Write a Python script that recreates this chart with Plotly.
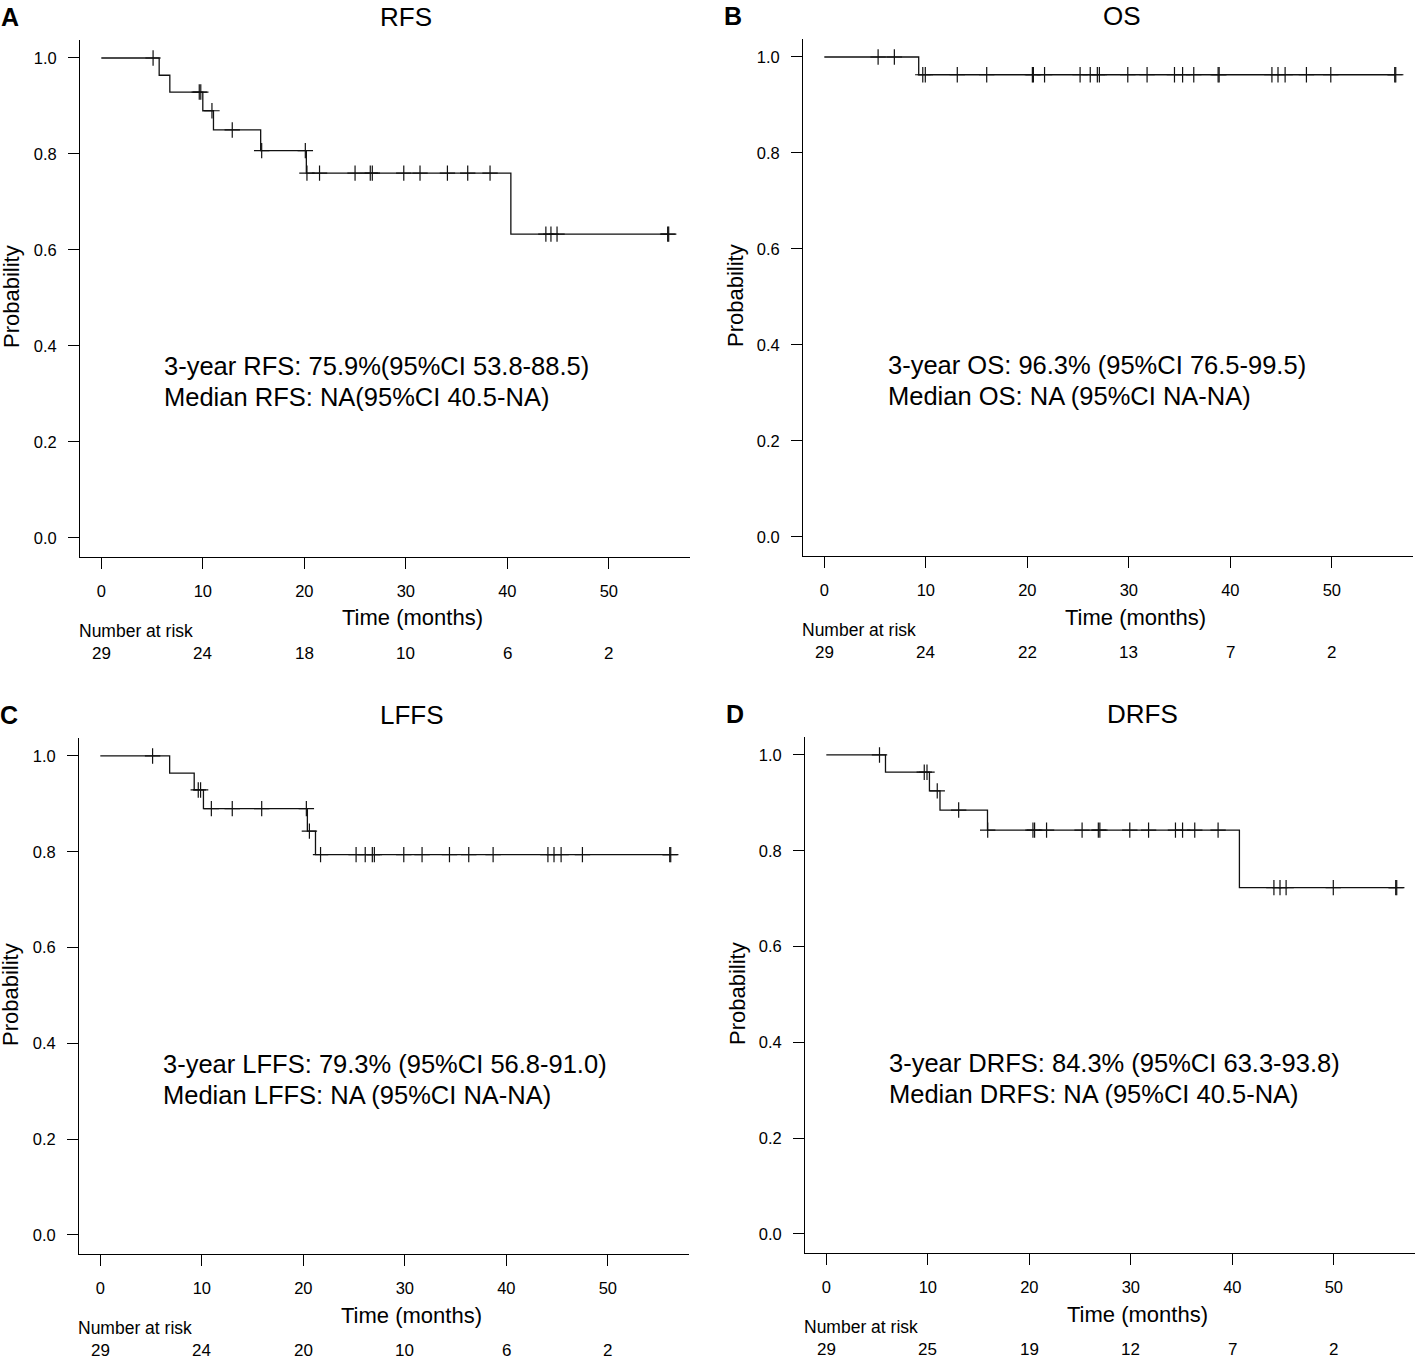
import numpy as np
import plotly.graph_objects as go

W, H = 1418, 1357
FONT = 'Liberation Sans, Arial, Helvetica, sans-serif'

# Kaplan-Meier steps (time in months, survival)
rfs_t = [0, 5.7, 6.75, 10.0, 11.05, 15.7, 20.2, 40.35]
rfs_s = [1.0, 0.964, 0.929, 0.890, 0.850, 0.807, 0.760, 0.633]
rfs_end = 55.9
rfs_cens = [5.1, 9.65, 9.8, 10.9, 12.9, 15.8, 20.1, 20.26, 21.5, 25.0, 26.5, 26.7, 29.8,
            31.4, 34.1, 36.1, 38.3, 43.8, 44.3, 44.9, 55.8, 55.9]
rfs_risk = [29, 24, 18, 10, 6, 2]

os_t = [0, 9.3]
os_s = [1.0, 0.963]
os_end = 56.3
os_cens = [5.3, 6.9, 9.7, 9.95, 13.1, 16.0, 20.5, 20.6, 21.7, 25.2, 26.2, 26.9, 27.1, 29.9,
           31.8, 34.5, 35.3, 36.4, 38.8, 38.9, 44.1, 44.7, 45.4, 47.5, 49.9, 56.2, 56.3]
os_risk = [29, 24, 22, 13, 7, 2]

lffs_t = [0, 6.83, 9.25, 10.16, 20.4, 21.2]
lffs_s = [1.0, 0.964, 0.929, 0.890, 0.843, 0.794]
lffs_end = 56.2
lffs_cens = [5.15, 9.65, 9.88, 10.94, 13.0, 15.9, 20.3, 20.6, 21.7, 25.2, 26.1, 26.8, 27.0,
             29.9, 31.7, 34.4, 36.3, 38.7, 44.1, 44.7, 45.4, 47.5, 56.1, 56.2]
lffs_risk = [29, 24, 20, 10, 6, 2]

drfs_t = [0, 5.83, 10.16, 11.2, 15.88, 40.7]
drfs_s = [1.0, 0.964, 0.925, 0.885, 0.843, 0.723]
drfs_end = 56.2
drfs_cens = [5.24, 9.65, 9.92, 10.93, 13.04, 15.9, 20.36, 20.52, 21.7, 25.2, 26.8, 26.95,
             29.9, 31.75, 34.4, 35.1, 36.3, 38.6, 44.1, 44.7, 45.3, 49.95, 56.1, 56.2]
drfs_risk = [29, 25, 19, 12, 7, 2]

risk_times = [0, 10, 20, 30, 40, 50]

panels = [
    dict(letter='A', title='RFS', t=rfs_t, s=rfs_s, end=rfs_end, cens=rfs_cens, risk=rfs_risk,
         text=['3-year RFS: 75.9%(95%CI 53.8-88.5)', 'Median RFS: NA(95%CI 40.5-NA)'],
         box=(80, 40, 690, 557), title_x=406, text_x=162),
    dict(letter='B', title='OS', t=os_t, s=os_s, end=os_end, cens=os_cens, risk=os_risk,
         text=['3-year OS: 96.3% (95%CI 76.5-99.5)', 'Median OS: NA (95%CI NA-NA)'],
         box=(803, 39, 1413, 556), title_x=1122, text_x=886),
    dict(letter='C', title='LFFS', t=lffs_t, s=lffs_s, end=lffs_end, cens=lffs_cens, risk=lffs_risk,
         text=['3-year LFFS: 79.3% (95%CI 56.8-91.0)', 'Median LFFS: NA (95%CI NA-NA)'],
         box=(79, 738, 689, 1254), title_x=412, text_x=161),
    dict(letter='D', title='DRFS', t=drfs_t, s=drfs_s, end=drfs_end, cens=drfs_cens, risk=drfs_risk,
         text=['3-year DRFS: 84.3% (95%CI 63.3-93.8)', 'Median DRFS: NA (95%CI 40.5-NA)'],
         box=(805, 737, 1415, 1253), title_x=1142, text_x=887),
]


def px(x):
    return x / W


def py(y):
    return 1 - y / H


def label(text, x, y, size, xanchor='center', **kw):
    return dict(text=text, x=px(x), y=py(y), xref='paper', yref='paper',
                xanchor=xanchor, yanchor='middle', showarrow=False,
                font=dict(family=FONT, size=size, color='black'), **kw)


fig = go.Figure()
annotations = []

for i, p in enumerate(panels):
    n = '' if i == 0 else str(i + 1)
    xa, ya = 'x' + n, 'y' + n
    x0, y0, x1, y1 = p['box']

    # survival curve
    xs = list(p['t']) + [p['end']]
    ys = list(p['s']) + [p['s'][-1]]
    fig.add_trace(go.Scatter(x=xs, y=ys, mode='lines', line_shape='hv',
                             line=dict(color='#111111', width=1.3),
                             xaxis=xa, yaxis=ya, showlegend=False, hoverinfo='skip'))

    # censor marks
    idx = np.searchsorted(p['t'], p['cens'], side='right') - 1
    cy = np.array(p['s'])[idx]
    fig.add_trace(go.Scatter(x=p['cens'], y=cy, mode='markers',
                             marker=dict(symbol='cross-thin', size=11,
                                         line=dict(color='#111111', width=1.2)),
                             xaxis=xa, yaxis=ya, showlegend=False, hoverinfo='skip'))

    axis_common = dict(showgrid=False, zeroline=False, showline=True, linecolor='black',
                       linewidth=1, ticks='outside', ticklen=11, tickcolor='black',
                       tickfont=dict(family=FONT, size=16.5, color='black'))
    fig.update_layout(**{
        'xaxis' + n: dict(domain=[px(x0), px(x1)], range=[-2.1, 58.0], anchor=ya,
                          tickvals=risk_times, ticklabelstandoff=8, **axis_common),
        'yaxis' + n: dict(domain=[py(y1), py(y0)], range=[-0.04, 1.0375], anchor=xa,
                          tickvals=[0, 0.2, 0.4, 0.6, 0.8, 1.0], tickformat='.1f',
                          ticklabelstandoff=8, **axis_common),
    })

    ax0 = x0 + 21  # pixel of time zero
    # panel letter and title
    annotations.append(label('<b>' + p['letter'] + '</b>', x0 - 70, y0 - 23, 25))
    annotations.append(label(p['title'], p['title_x'], y0 - 23, 26))
    # axis titles
    annotations.append(label('Time (months)', ax0 + 311, y1 + 61, 22))
    annotations.append(label('Probability', x0 - 68, y0 + 257, 22, textangle=-90))
    # summary text
    for k, line in enumerate(p['text']):
        annotations.append(label(line, p['text_x'], y0 + 326 + 31 * k, 25.5, xanchor='left'))
    # number at risk
    annotations.append(label('Number at risk', x0 - 3, y1 + 74, 17.5, xanchor='left'))
    for t, r in zip(risk_times, p['risk']):
        annotations.append(dict(text=str(r), x=t, xref=xa, y=py(y1 + 96), yref='paper',
                                xanchor='center', yanchor='middle', showarrow=False,
                                font=dict(family=FONT, size=17, color='black')))

fig.update_layout(width=W, height=H, margin=dict(l=0, r=0, t=0, b=0),
                  paper_bgcolor='white', plot_bgcolor='white',
                  annotations=annotations)

fig.write_html('out.html', config={'displayModeBar': False},
               post_script="document.body.style.margin='0';")
